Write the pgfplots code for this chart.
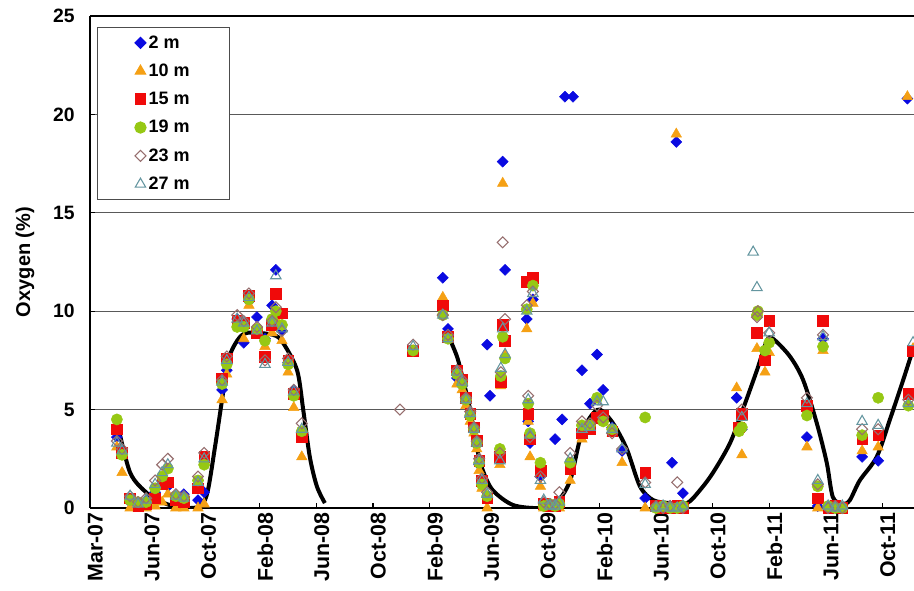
\documentclass[border=0pt]{standalone}
\usepackage{fontspec}
\setmainfont{Liberation Sans}
\usepackage{pgfplots}
\usepackage{pgfplotstable}
\pgfplotsset{compat=1.18}
\definecolor{cblue}{RGB}{10,10,225}
\definecolor{corange}{RGB}{245,160,20}
\definecolor{cred}{RGB}{240,10,10}
\definecolor{cgreen}{RGB}{150,200,20}
\definecolor{cmauve}{RGB}{150,110,110}
\definecolor{cteal}{RGB}{100,150,160}
% day = days since 1 Mar 2007
\pgfplotstableread{
d a b c e f g
57 3.6 3.1 4.0 4.5 3.4 3.3
68 2.9 1.8 2.8 2.7 3.0 2.9
85 0.3 0.0 0.5 0.4 0.6 0.6
102 0.2 0.0 0.1 0.3 0.3 0.2
119 0.4 0.0 0.2 0.3 0.5 0.4
138 0.8 0.1 0.5 1.0 1.4 1.2
153 1.4 0.3 1.2 1.6 2.2 1.8
165 1.1 0.7 1.3 2.0 2.5 2.2
182 0.5 0.0 0.4 0.6 0.7 0.6
199 0.7 0.0 0.3 0.5 0.6 0.5
229 0.4 0.0 1.0 1.4 1.6 1.3
242 0.8 0.2 2.6 2.2 2.8 2.5
280 6.0 5.5 6.6 6.3 6.5 6.4
290 7.0 6.8 7.6 7.3 7.7 7.5
312 9.6 9.3 9.5 9.2 9.8 9.6
326 8.4 8.6 9.4 9.2 9.5 9.4
337 10.5 10.3 10.8 10.6 10.9 10.7
354 9.7 8.8 8.9 9.1 9.2 9.0
371 8.6 8.2 7.7 8.5 7.5 7.3
386 10.3 8.9 9.3 9.6 9.5 9.4
394 12.1 9.6 10.9 10.0 10.2 11.8
407 9.0 8.5 9.9 9.3 9.0 9.1
420 7.4 6.9 7.5 7.3 7.6 7.4
432 6.0 5.1 5.8 5.7 6.0 5.9
449 3.8 2.6 3.6 3.9 4.3 4.0
657 nan nan nan nan 5.0 nan
685 8.0 8.0 8.0 8.0 8.3 8.2
748 11.7 10.7 10.3 9.8 9.8 9.8
759 9.1 8.6 8.7 8.6 8.8 8.6
778 6.6 6.3 7.0 6.8 7.0 6.9
789 6.2 6.0 6.5 6.3 6.5 6.4
797 5.4 5.2 5.6 5.5 5.6 5.5
806 4.6 4.4 4.8 4.7 4.9 4.8
814 3.9 3.8 4.1 4.0 4.1 4.0
820 3.2 3.0 3.4 3.3 3.4 3.3
825 2.2 1.9 2.4 2.3 2.5 2.4
831 1.3 1.0 1.4 1.2 1.5 1.4
842 8.3 0.0 0.5 0.6 0.8 0.7
848 5.7 nan nan nan nan nan
869 nan 2.2 2.6 3.0 2.8 2.4
871 nan 6.2 6.4 6.7 6.9 7.1
875 17.6 16.5 9.3 8.7 13.5 9.1
880 12.1 7.8 8.5 7.6 9.6 7.8
926 9.6 9.1 11.5 10.1 10.3 10.0
929 4.4 4.4 4.8 5.3 5.7 5.5
933 3.3 2.6 3.5 3.8 3.6 3.7
939 10.6 10.4 11.7 11.3 11.0 10.9
955 1.6 1.1 1.9 2.3 1.6 1.4
962 0.1 0.0 0.2 0.1 0.3 0.4
975 0.1 0.0 0.1 0.2 0.2 0.1
986 3.5 0.0 0.1 0.1 0.2 0.1
995 0.2 0.0 0.3 0.2 0.8 0.3
1001 4.5 nan nan nan nan nan
1007 20.9 nan nan nan nan nan
1018 nan 1.4 2.0 2.3 2.8 2.5
1024 20.9 nan nan nan nan nan
1043 7.0 3.5 3.8 4.2 4.4 4.0
1060 5.3 4.0 4.0 4.2 4.3 4.1
1075 7.8 4.6 4.6 5.6 5.2 5.4
1088 6.0 4.4 4.7 4.4 4.6 5.4
1107 4.1 3.8 3.9 4.0 3.8 4.0
1128 2.9 2.3 nan nan 3.0 3.0
1177 0.5 0.0 1.8 4.6 1.3 1.2
1200 0.0 0.0 0.1 0.0 0.1 0.0
1215 0.0 0.0 0.0 0.1 0.0 0.1
1230 0.1 0.0 0.0 0.0 0.1 0.0
1234 2.3 nan nan nan nan nan
1243 18.6 19.0 nan nan nan nan
1245 0.0 0.0 0.1 0.0 1.3 0.0
1257 0.75 0.0 0.0 0.1 0.0 0.1
1371 5.6 6.1 nan nan nan nan
1376 nan nan 4.1 3.9 nan nan
1382 4.0 2.7 4.8 4.1 5.0 4.6
1406 nan nan nan nan nan 13.0
1414 nan 8.1 8.9 9.8 9.7 11.2
1416 nan nan nan 10.0 10.0 nan
1431 nan 6.9 7.5 8.0 nan nan
1440 nan 7.9 9.5 8.4 8.9 8.9
1520 3.6 3.1 5.2 4.7 5.6 5.3
1543 0.1 0.0 0.5 1.1 1.2 1.4
1554 8.6 8.0 9.5 8.2 8.8 8.7
1565 0.0 0.0 0.0 0.1 0.0 0.1
1580 0.0 0.0 0.1 0.0 0.1 0.0
1595 0.0 0.0 0.0 0.0 0.0 0.1
1637 2.6 2.9 3.5 3.7 4.0 4.4
1671 2.4 3.1 3.7 5.6 4.0 4.2
1733 20.8 20.9 nan nan nan nan
1735 nan nan 5.8 5.2 5.5 5.3
1745 nan 8.1 8.0 nan nan 8.4
}\obs
\pgfplotstableread{
d v
57 4.4
85 1.8
121 0.75
148 0.35
184 0.05
229 0.05
248 0.7
265 3.1
280 5.5
293 7.5
312 8.5
333 8.9
388 8.8
409 8.4
439 7.0
452 5.0
466 2.6
481 1.1
498 0.25
}\fitA
\pgfplotstableread{
d v
757 8.9
778 7.7
791 6.5
806 5.0
820 3.1
833 1.9
854 0.9
897 0.15
954 0.0
990 0.3
1018 1.4
1039 3.5
1060 4.6
1081 5.0
1109 4.3
1138 3.0
1166 1.1
1194 0.4
1230 0.25
1266 0.25
1293 0.9
1321 1.8
1357 3.3
1384 5.0
1414 7.0
1435 8.5
1448 8.6
1484 7.7
1512 6.5
1541 4.3
1562 2.3
1575 0.55
1596 0.2
1611 0.4
1632 1.4
1668 2.6
1696 4.5
1724 6.5
1748 8.3
}\fitB
\begin{document}
\begin{tikzpicture}
\begin{axis}[
  name=ax,
  width=618pt, height=369pt, scale only axis,
  xmin=0, xmax=1747, ymin=0, ymax=25,
  axis x line*=bottom, axis y line*=left,
  axis line style={-, line width=1.6pt, black},
  xtick={0,120,...,1680},
  xticklabels={Mar-07,Jun-07,Oct-07,Feb-08,Jun-08,Oct-08,Feb-09,Jun-09,Oct-09,Feb-10,Jun-10,Oct-10,Feb-11,Jun-11,Oct-11},
  ytick={0,5,10,15,20},
  extra y ticks={25},
  extra y tick style={major grid style={black, line width=1.6pt}},
  ymajorgrids,
  major grid style={line width=0.8pt, color=black!65},
  tick align=inside,
  major tick length=4pt,
  tick style={black, line width=0.8pt},
  /pgf/number format/assume math mode=true,
  xticklabel style={rotate=90, anchor=east, yshift=-4pt, font=\bfseries\fontsize{16}{19}\selectfont},
  yticklabel style={xshift=-8pt, font=\bfseries\fontsize{14.5}{17}\selectfont},
  ylabel={Oxygen (\%)},
  every axis y label/.style={at={(axis description cs:-0.079,0.5)}, rotate=90, anchor=center, font=\bfseries\fontsize{15}{18}\selectfont},
  legend style={at={(axis description cs:0.0085,0.9776)}, anchor=north west, draw=black!70, line width=0.8pt, inner xsep=28pt, inner ysep=4pt, row sep=6.3pt, font=\bfseries\fontsize{13.5}{16}\selectfont, legend cell align=left},
  legend image post style={line width=0.8pt},
]
\addplot[only marks, mark=square*, mark size=2.9pt, mark options={rotate=45, fill=cblue, draw=cblue}] table[x=d, y=a] {\obs};
\addlegendentry{2 m}
\addplot[only marks, mark=triangle*, mark size=4.5pt, mark options={fill=corange, draw=corange}] table[x=d, y=b] {\obs};
\addlegendentry{10 m}
\addplot[only marks, mark=square*, mark size=4pt, mark options={fill=cred, draw=cred}] table[x=d, y=c] {\obs};
\addlegendentry{15 m}
\addplot[only marks, mark=*, mark size=4.2pt, mark options={fill=cgreen, draw=cgreen}] table[x=d, y=e] {\obs};
\addlegendentry{19 m}
\addplot[only marks, mark=square, mark size=2.9pt, mark options={rotate=45, draw=cmauve, line width=0.8pt, fill=none}] table[x=d, y=f] {\obs};
\addlegendentry{23 m}
\addplot[only marks, mark=triangle, mark size=4.5pt, mark options={draw=cteal, line width=0.8pt, fill=none}] table[x=d, y=g] {\obs};
\addlegendentry{27 m}
\addplot[black, line width=3pt, smooth, no marks, forget plot] table[x=d, y=v] {\fitA};
\addplot[black, line width=3pt, smooth, no marks, forget plot] table[x=d, y=v] {\fitB};
\end{axis}
\pgfresetboundingbox
\path[use as bounding box] ([shift={(-67.5pt,-62.25pt)}]ax.south west) rectangle ([shift={(0pt,12pt)}]ax.north east);
\end{tikzpicture}
\end{document}
